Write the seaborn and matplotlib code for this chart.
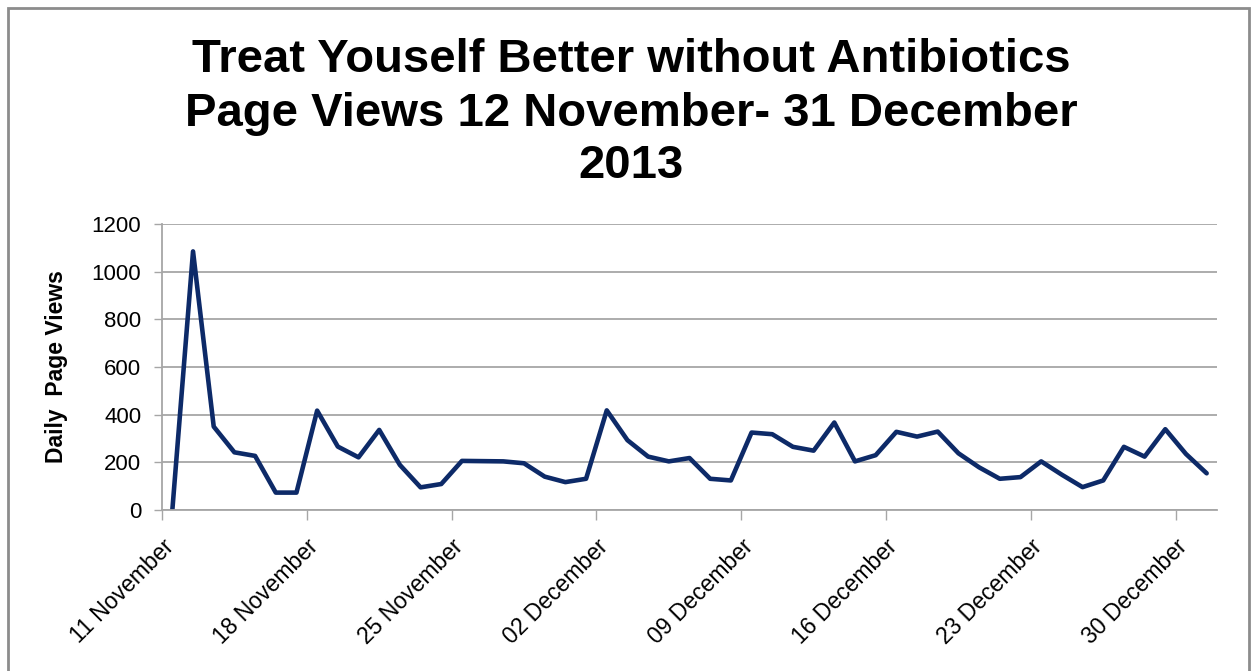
import matplotlib
matplotlib.use("Agg")
import matplotlib.pyplot as plt
from matplotlib.patches import Rectangle
import seaborn as sns
import pandas as pd

# ---- data ----
start_date = "2013-11-11"
page_views = [0, 1085, 350, 242, 227, 73, 73, 417, 266, 221,
              336, 189, 95, 109, 206, 205, 204, 196, 140, 117,
              131, 418, 293, 224, 204, 218, 131, 124, 325, 318,
              265, 249, 367, 204, 230, 328, 308, 329, 238, 179,
              131, 138, 204, 148, 96, 124, 265, 224, 339, 235, 154]
tick_dates = ["2013-11-11", "2013-11-18", "2013-11-25", "2013-12-02",
              "2013-12-09", "2013-12-16", "2013-12-23", "2013-12-30"]
y_ticks = [0, 200, 400, 600, 800, 1000, 1200]
title_lines = ["Treat Youself Better without Antibiotics",
               "Page Views 12 November- 31 December",
               "2013"]
y_label = "Daily  Page Views"

dates = pd.date_range(start_date, periods=len(page_views), freq="D") + pd.Timedelta(hours=12)
df = pd.DataFrame({"date": dates, "views": page_views})

sns.set_style("white")
plt.rcParams["font.family"] = ["Liberation Sans", "DejaVu Sans"]
plt.rcParams["text.color"] = "black"
plt.rcParams["axes.labelcolor"] = "black"
plt.rcParams["xtick.color"] = "black"
plt.rcParams["ytick.color"] = "black"

fig = plt.figure(figsize=(12.53, 6.71), dpi=100)
ax = fig.add_axes([162/1253, 1-510/671, (1217-162)/1253, (510-224)/671])

sns.lineplot(data=df, x="date", y="views", ax=ax, color="#0D2A68", linewidth=3.3)

ax.set_xlim(pd.Timestamp("2013-11-11"), pd.Timestamp("2014-01-01"))
ax.set_ylim(0, 1200)
ax.set_yticks(y_ticks)
ax.set_yticklabels([str(v) for v in y_ticks], fontsize=16)
tick_ts = pd.to_datetime(tick_dates)
ax.set_xticks(tick_ts)
ax.set_xticklabels([t.strftime("%d %B") for t in tick_ts], fontsize=16.5,
                   rotation=45, ha="right", va="top", rotation_mode="anchor")

ax.grid(axis="y", color="#A6A6A6", linewidth=1.3)
ax.grid(axis="x", visible=False)
ax.set_axisbelow(True)
for s in ["top", "right"]:
    ax.spines[s].set_visible(False)
for s in ["left", "bottom"]:
    ax.spines[s].set_color("#A6A6A6")
    ax.spines[s].set_linewidth(1.3)
ax.tick_params(axis="y", which="both", left=True, length=6, width=1.0, color="#A6A6A6", pad=9, labelcolor="black")
ax.tick_params(axis="x", which="both", bottom=True, length=7, width=1.0, color="#A6A6A6", pad=11, labelcolor="black")

ax.set_xlabel("")
ax.set_ylabel(y_label, fontsize=16.5, fontweight="bold", color="black")
ax.yaxis.set_label_coords((68-162)/1055, 0.5)

baselines = [72, 126, 178]
for line, b in zip(title_lines, baselines):
    fig.text(631/1253, 1-b/671, line, ha="center", va="baseline",
             fontsize=34, fontweight="bold", color="black")

fig.patches.append(Rectangle((8/1253, -0.1), (1249-8)/1253, 1.1 - 8/671,
                             transform=fig.transFigure, fill=False,
                             edgecolor="#8C8C8C", linewidth=2))

fig.savefig("out.png", dpi=100)
